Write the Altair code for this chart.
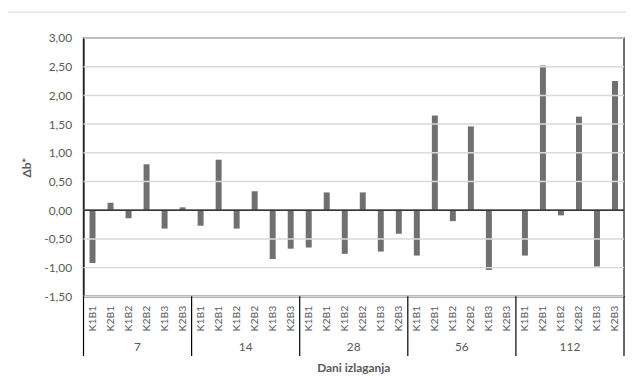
import altair as alt
import pandas as pd

days = ["7", "14", "28", "56", "112"]
samples = ["K1B1", "K2B1", "K1B2", "K2B2", "K1B3", "K2B3"]
vals_7 = [-0.92, 0.13, -0.14, 0.80, -0.32, 0.05]
vals_14 = [-0.27, 0.88, -0.32, 0.33, -0.85, -0.67]
vals_28 = [-0.65, 0.31, -0.76, 0.31, -0.72, -0.41]
vals_56 = [-0.79, 1.65, -0.19, 1.46, -1.04, 0.00]
vals_112 = [-0.79, 2.52, -0.09, 1.63, -0.98, 2.25]
y_ticks = [-1.5, -1.0, -0.5, 0.0, 0.5, 1.0, 1.5, 2.0, 2.5, 3.0]

all_vals = [vals_7, vals_14, vals_28, vals_56, vals_112]
rows = []
for d, vs in zip(days, all_vals):
    for s, v in zip(samples, vs):
        rows.append({"key": f"{d}|{s}", "day": d, "sample": s, "value": v})
df = pd.DataFrame(rows)
keys = list(df["key"])

grey = "#595959"
FONT = "Lato"

xscale = alt.Scale(domain=keys, paddingInner=0, paddingOuter=0)
yscale = alt.Scale(domain=[-1.5, 3], nice=False, zero=False)

xaxis = alt.Axis(labelExpr="split(datum.label, '|')[1]", labelAngle=-90,
                 ticks=False, domain=True, domainColor="#000000",
                 labelColor=grey, labelFontSize=10.5, labelPadding=9,
                 title=None, grid=False, labelFont=FONT, labelOverlap=False)
yaxis = alt.Axis(values=y_ticks,
                 labelExpr="replace(replace(format(datum.value, '.2f'), '.', ','), '\u2212', '-')",
                 grid=False, ticks=False,
                 domainColor="#000000", labelColor=grey, labelFontSize=12,
                 labelPadding=12, labelFont=FONT, labelOverlap=False,
                 title="Δb*", titleColor=grey, titleFontWeight="bold",
                 titleFontSize=12, titlePadding=10, titleFont=FONT)

grid_df = pd.DataFrame({"tick": y_ticks})
grid = alt.Chart(grid_df).mark_rule(color="#d9d9d9", strokeWidth=1.5, opacity=1).encode(
    y=alt.Y("tick:Q", scale=yscale, axis=yaxis),
)

bars = alt.Chart(df).mark_bar(size=6, color="#707070").encode(
    x=alt.X("key:N", sort=keys, scale=xscale, axis=xaxis),
    y=alt.Y("value:Q", scale=yscale, axis=yaxis),
)

zero_df = pd.DataFrame({"value": [0.0]})
zero_line = alt.Chart(zero_df).mark_rule(color="#000000", strokeWidth=1.2).encode(
    y=alt.Y("value:Q", scale=yscale, axis=yaxis)
)

grp_df = pd.DataFrame({"key": [f"{d}|{samples[2]}" for d in days], "day": days})
grp_text = alt.Chart(grp_df).mark_text(fontSize=12, color=grey, font=FONT, baseline="middle").encode(
    x=alt.X("key:N", bandPosition=1, scale=xscale, axis=xaxis),
    y=alt.value(311),
    text="day:N",
)

sep_start = pd.DataFrame({"key": [f"{d}|{samples[0]}" for d in days]})
sep_end = pd.DataFrame({"key": [f"{days[-1]}|{samples[-1]}"]})
sep1 = alt.Chart(sep_start).mark_rule(color="#000000", strokeWidth=1.2).encode(
    x=alt.X("key:N", bandPosition=0, scale=xscale, axis=xaxis),
    y=alt.value(260), y2=alt.value(320),
)
sep2 = alt.Chart(sep_end).mark_rule(color="#000000", strokeWidth=1.2).encode(
    x=alt.X("key:N", bandPosition=1, scale=xscale, axis=xaxis),
    y=alt.value(260), y2=alt.value(320),
)

x_title = alt.Chart(zero_df).mark_text(text="Dani izlaganja", fontSize=12, fontWeight="bold",
                                       color=grey, font=FONT, baseline="middle").encode(
    x=alt.value(272), y=alt.value(332)
)

border_top = alt.Chart(zero_df).mark_rule(color="#d9d9d9", strokeWidth=1).encode(
    x=alt.value(-77), x2=alt.value(550), y=alt.value(-26)
)
border_left = alt.Chart(zero_df).mark_rule(color="#d9d9d9", strokeWidth=1).encode(
    x=alt.value(-77), y=alt.value(-26), y2=alt.value(349)
)

chart = alt.layer(
    bars, grid, zero_line, grp_text, sep1, sep2, x_title, border_top, border_left
).properties(
    width=544, height=260,
    autosize=alt.AutoSizeParams(type="none"),
    padding={"left": 76, "top": 29, "right": 2, "bottom": 80},
).configure(
    font=FONT
).configure_view(
    stroke="#404040", strokeWidth=1.5
)

chart.save("out.html", embed_options={"renderer": "svg", "actions": False})
